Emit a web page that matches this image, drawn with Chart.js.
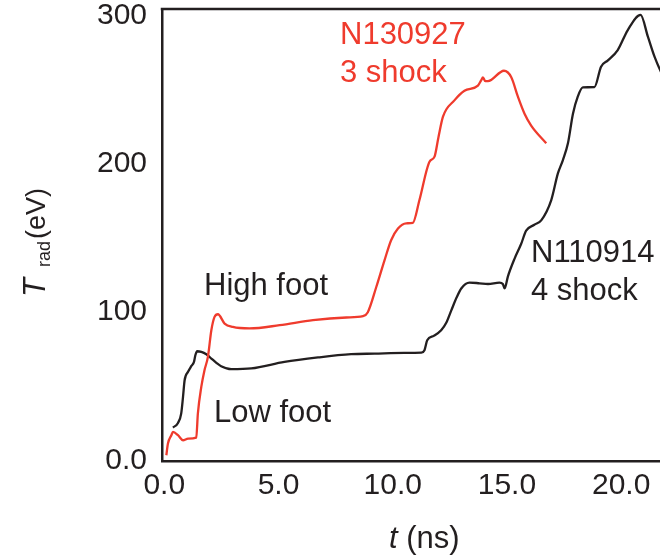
<!DOCTYPE html>
<html lang="en">
<head>
    <meta charset="UTF-8">
    <title>Radiation temperature</title>
    <script src="https://cdn.jsdelivr.net/npm/chart.js"></script>
    <style>
        html, body { margin: 0; padding: 0; background: #fff; }
        .chart-container { position: relative; width: 660px; height: 557px; }
    </style>
</head>
<body>
    <div class="chart-container">
        <canvas id="tradChart"></canvas>
    </div>

    <script>
        const xTicks = [0, 5, 10, 15, 20];
        const xTickLabels = ['0.0', '5.0', '10.0', '15.0', '20.0'];
        const yTicks = [0, 100, 200, 300];
        const yTickLabels = ['0.0', '100', '200', '300'];

        // N130927, 3 shock (high foot)
        const highFootTime = [0.09, 0.16, 0.31, 0.38, 0.60, 0.82, 1.04, 1.40, 1.47, 1.62, 1.76, 1.91, 2.06, 2.20, 2.35, 2.64, 3.00, 3.73, 5.05, 6.51, 7.97, 8.70, 8.91, 9.28, 9.64, 9.93, 10.23, 10.59, 10.88, 11.17, 11.61, 11.83, 12.00, 12.20, 12.70, 13.14, 13.73, 13.87, 13.95, 14.05, 14.17, 14.87, 15.19, 15.48, 15.77, 16.06, 16.72];
        const highFootTrad = [3.4, 11.3, 16.9, 19.1, 16.9, 13.5, 14.6, 15.3, 31.5, 49.5, 60.8, 69.8, 87.8, 96.8, 98.6, 92.3, 90.0, 89.0, 91.2, 94.6, 96.4, 97.3, 100, 117, 135, 148.6, 156.5, 160, 160.3, 175.7, 201.6, 205, 218, 232, 243, 249.5, 253, 256.5, 258.5, 256, 256, 263, 258.6, 245.5, 234, 226, 214];

        // N110914, 4 shock (low foot)
        const lowFootTime = [0.38, 0.60, 0.74, 0.82, 0.89, 1.04, 1.18, 1.30, 1.36, 1.44, 1.62, 1.84, 2.06, 2.28, 2.49, 2.93, 3.81, 5.26, 6.73, 8.18, 9.20, 10.50, 11.25, 11.39, 11.51, 11.80, 12.12, 12.35, 12.56, 12.80, 13.00, 13.36, 13.80, 14.17, 14.67, 14.82, 14.90, 15.04, 15.33, 15.62, 15.84, 16.20, 16.50, 16.94, 17.23, 17.45, 17.67, 17.89, 18.10, 18.32, 18.83, 19.12, 19.42, 19.85, 20.29, 20.85, 21.17, 21.46, 21.75, 22.00];
        const lowFootTrad = [22.1, 25.2, 31.5, 42.8, 54, 59.7, 63.5, 66.4, 70.9, 73.6, 73.2, 71.6, 68.7, 65.8, 63.5, 61.5, 62, 66.4, 69.4, 71.6, 72, 72.5, 72.7, 74.3, 81, 84, 87.8, 93, 101, 110, 116, 120, 119.5, 119, 120, 119, 116, 124, 136, 146, 155, 159, 162, 175.7, 193.7, 202.7, 214, 234, 245.5, 251.8, 252, 265.7, 270, 277, 290.5, 300.7, 286, 272.5, 262, 255];

        const ink = '#231f20';
        const red = '#ef3b2d';
        const fontFamily = '"Liberation Sans", Arial, Helvetica, sans-serif';

        function toPoints(xs, ys) {
            return xs.map((x, i) => ({ x: x, y: ys[i] }));
        }

        // text labels, top frame line and axis titles
        const decorPlugin = {
            id: 'decor',
            afterDraw(chart) {
                const ctx = chart.ctx;
                const area = chart.chartArea;
                ctx.save();

                ctx.strokeStyle = ink;
                ctx.lineWidth = 2.5;
                ctx.beginPath();
                ctx.moveTo(area.left - 1.25, area.top);
                ctx.lineTo(area.right, area.top);
                ctx.stroke();

                ctx.textBaseline = 'alphabetic';
                ctx.textAlign = 'left';
                ctx.font = '31px ' + fontFamily;
                ctx.fillStyle = red;
                ctx.fillText('N130927', 340, 44);
                ctx.fillText('3 shock', 340, 82);
                ctx.fillStyle = ink;
                ctx.fillText('High foot', 204, 295);
                ctx.fillText('Low foot', 214, 422);
                ctx.fillText('N110914', 531, 262);
                ctx.fillText('4 shock', 531, 300);

                // x title: t (ns)
                ctx.font = 'italic 31px ' + fontFamily;
                ctx.fillText('t', 389, 548);
                const tw = ctx.measureText('t').width;
                ctx.font = '31px ' + fontFamily;
                ctx.fillText(' (ns)', 389 + tw, 548);

                // y title: T_rad (eV)
                ctx.translate(45, 297);
                ctx.rotate(-Math.PI / 2);
                ctx.font = 'italic 31px ' + fontFamily;
                ctx.fillText('T', 0, 0);
                ctx.font = '18px ' + fontFamily;
                ctx.fillText('rad', 30, 5);
                ctx.font = '27px ' + fontFamily;
                ctx.fillText('(eV)', 58, 0);

                ctx.restore();
            }
        };

        const ctx = document.getElementById('tradChart').getContext('2d');
        const tradChart = new Chart(ctx, {
            type: 'line',
            data: {
                datasets: [{
                    label: 'N130927 3 shock',
                    data: toPoints(highFootTime, highFootTrad),
                    borderColor: red,
                    borderWidth: 2.3,
                    pointRadius: 0,
                    cubicInterpolationMode: 'monotone',
                    fill: false
                }, {
                    label: 'N110914 4 shock',
                    data: toPoints(lowFootTime, lowFootTrad),
                    borderColor: ink,
                    borderWidth: 2.3,
                    pointRadius: 0,
                    cubicInterpolationMode: 'monotone',
                    fill: false
                }]
            },
            options: {
                responsive: true,
                maintainAspectRatio: false,
                animation: false,
                layout: { padding: { left: 0, right: 0, top: 9, bottom: 0 } },
                plugins: {
                    legend: { display: false },
                    tooltip: { enabled: false }
                },
                scales: {
                    x: {
                        type: 'linear',
                        min: -0.1,
                        max: 21.7,
                        afterBuildTicks: scale => { scale.ticks = xTicks.map(v => ({ value: v })); },
                        afterFit: scale => {
                            scale.height = 96;
                            scale.paddingLeft = 0;
                            scale.paddingRight = 0;
                        },
                        grid: { display: false, drawTicks: false },
                        border: { display: true, color: ink, width: 2.5 },
                        ticks: {
                            padding: 7,
                            color: ink,
                            font: { family: fontFamily, size: 30 },
                            maxRotation: 0,
                            callback: (value) => xTickLabels[xTicks.indexOf(value)]
                        }
                    },
                    y: {
                        min: -0.5,
                        max: 304.7,
                        afterBuildTicks: scale => { scale.ticks = yTicks.map(v => ({ value: v })); },
                        afterFit: scale => {
                            scale.width = 162;
                            scale.paddingTop = 0;
                            scale.paddingBottom = 0;
                        },
                        grid: { display: false, drawTicks: false },
                        border: { display: true, color: ink, width: 2.5 },
                        ticks: {
                            padding: 15,
                            color: ink,
                            font: { family: fontFamily, size: 30 },
                            callback: (value) => yTickLabels[yTicks.indexOf(value)]
                        }
                    }
                }
            },
            plugins: [decorPlugin]
        });
    </script>
</body>
</html>
